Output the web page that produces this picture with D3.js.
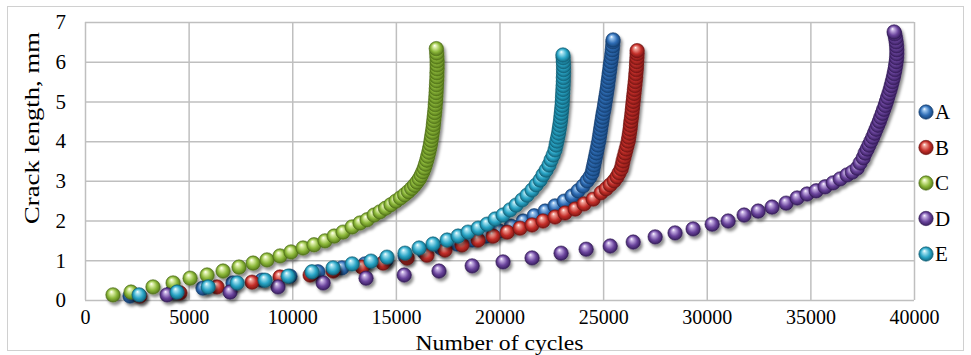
<!DOCTYPE html>
<html>
<head>
<meta charset="utf-8">
<script src="https://cdn.jsdelivr.net/npm/d3@7"></script>
<style>
  body { margin: 0; background: #fff; }
  svg { display: block; }
  .tick text { font-family: "Liberation Serif", "Times New Roman", serif; fill: #000; }
</style>
</head>
<body>
<div id="chart"></div>
<script>
// tick labels
const xTicks = [0, 5000, 10000, 15000, 20000, 25000, 30000, 35000, 40000];
const yTicks = [0, 1, 2, 3, 4, 5, 6, 7];

const seriesNames = ['A', 'B', 'C', 'D', 'E'];

// [number of cycles, crack length mm]
const seriesA = [
  [2170, 0.10], [4200, 0.20], [5690, 0.30], [7140, 0.43], [8540, 0.50], [9890, 0.60],
  [11240, 0.71], [12400, 0.81], [13510, 0.91], [14530, 1.01], [15440, 1.11], [16360, 1.21],
  [17180, 1.31], [17950, 1.41], [18680, 1.51], [19350, 1.61], [19980, 1.74], [20560, 1.86],
  [21140, 1.99], [21670, 2.12], [22200, 2.24], [22680, 2.37], [23120, 2.49], [23500, 2.62],
  [23790, 2.75], [24030, 2.87], [24230, 3.00], [24370, 3.10], [24470, 3.20], [24510, 3.30],
  [24550, 3.40], [24590, 3.50], [24630, 3.60], [24670, 3.70], [24710, 3.80], [24750, 3.90],
  [24790, 4.00], [24820, 4.10], [24850, 4.20], [24880, 4.30], [24910, 4.40], [24940, 4.50],
  [24970, 4.60], [25000, 4.70], [25040, 4.80], [25070, 4.90], [25100, 5.00], [25130, 5.10],
  [25160, 5.20], [25190, 5.30], [25220, 5.40], [25240, 5.50], [25270, 5.60], [25290, 5.70],
  [25320, 5.80], [25340, 5.90], [25370, 6.00], [25400, 6.10], [25420, 6.20], [25440, 6.30],
  [25460, 6.40], [25470, 6.50], [25480, 6.55]
];

const seriesB = [
  [2650, 0.10], [4580, 0.18], [6370, 0.33], [8060, 0.45], [9410, 0.58], [10860, 0.63],
  [11970, 0.73], [13370, 0.83], [14380, 0.93], [15540, 1.06], [16500, 1.13], [17370, 1.26],
  [18190, 1.39], [18970, 1.51], [19690, 1.61], [20370, 1.71], [20990, 1.81], [21570, 1.89],
  [22100, 1.99], [22680, 2.09], [23160, 2.19], [23650, 2.29], [24080, 2.42], [24520, 2.54],
  [24900, 2.70], [25140, 2.80], [25340, 2.90], [25530, 3.00], [25670, 3.10], [25770, 3.20],
  [25870, 3.30], [25920, 3.40], [25960, 3.50], [26010, 3.60], [26060, 3.70], [26110, 3.80],
  [26160, 3.90], [26210, 4.00], [26240, 4.10], [26270, 4.20], [26300, 4.30], [26320, 4.40],
  [26340, 4.50], [26370, 4.60], [26390, 4.70], [26410, 4.80], [26430, 4.90], [26450, 5.00],
  [26470, 5.10], [26490, 5.20], [26510, 5.30], [26530, 5.40], [26550, 5.50], [26570, 5.60],
  [26580, 5.70], [26600, 5.80], [26610, 5.90], [26620, 6.00], [26630, 6.10], [26640, 6.20],
  [26640, 6.28]
];

const seriesC = [
  [1350, 0.13], [2220, 0.20], [3280, 0.33], [4250, 0.43], [5070, 0.55], [5890, 0.63],
  [6660, 0.73], [7430, 0.83], [8110, 0.93], [8780, 1.01], [9410, 1.11], [9940, 1.21],
  [10520, 1.31], [11050, 1.39], [11580, 1.49], [12020, 1.61], [12450, 1.71], [12890, 1.84],
  [13270, 1.94], [13610, 2.02], [13950, 2.14], [14230, 2.22], [14500, 2.31], [14760, 2.40],
  [15000, 2.49], [15220, 2.57], [15420, 2.65], [15600, 2.73], [15760, 2.81], [15900, 2.89],
  [16020, 2.97], [16130, 3.05], [16220, 3.14], [16300, 3.23], [16370, 3.32], [16430, 3.42],
  [16490, 3.52], [16540, 3.62], [16590, 3.72], [16630, 3.82], [16670, 3.92], [16700, 4.02],
  [16730, 4.12], [16760, 4.22], [16790, 4.32], [16810, 4.42], [16830, 4.52], [16850, 4.62],
  [16870, 4.72], [16890, 4.82], [16900, 4.92], [16920, 5.02], [16930, 5.12], [16940, 5.22],
  [16950, 5.32], [16960, 5.42], [16970, 5.52], [16980, 5.62], [16980, 5.72], [16990, 5.82],
  [16990, 5.92], [16990, 6.02], [16980, 6.12], [16970, 6.22], [16950, 6.33]
];

const seriesD = [
  [3960, 0.13], [7000, 0.20], [9310, 0.33], [11490, 0.43], [13560, 0.55], [15400, 0.63],
  [17080, 0.73], [18680, 0.86], [20170, 0.96], [21570, 1.06], [22970, 1.18], [24180, 1.28],
  [25340, 1.36], [26450, 1.46], [27510, 1.59], [28470, 1.69], [29340, 1.79], [30260, 1.91],
  [31030, 1.99], [31800, 2.14], [32480, 2.24], [33150, 2.34], [33830, 2.44], [34360, 2.57],
  [34840, 2.67], [35280, 2.75], [35710, 2.85], [36100, 2.95], [36440, 3.05], [36770, 3.15],
  [37020, 3.22], [37260, 3.32], [37400, 3.45], [37550, 3.58], [37640, 3.70], [37740, 3.80],
  [37830, 3.90], [37920, 4.00], [38010, 4.10], [38090, 4.20], [38170, 4.30], [38250, 4.40],
  [38330, 4.50], [38400, 4.60], [38470, 4.70], [38540, 4.80], [38610, 4.90], [38670, 5.00],
  [38730, 5.10], [38790, 5.20], [38850, 5.30], [38900, 5.40], [38950, 5.50], [39000, 5.60],
  [39040, 5.70], [39080, 5.80], [39110, 5.90], [39140, 6.00], [39160, 6.10], [39170, 6.20],
  [39170, 6.30], [39160, 6.40], [39140, 6.50], [39110, 6.60], [39070, 6.70], [39040, 6.75]
];

const seriesE = [
  [2610, 0.13], [4440, 0.20], [5940, 0.33], [7340, 0.43], [8690, 0.50], [9800, 0.60],
  [10950, 0.71], [11970, 0.81], [12890, 0.91], [13800, 0.98], [14570, 1.08], [15440, 1.18],
  [16120, 1.31], [16790, 1.41], [17470, 1.51], [18000, 1.61], [18480, 1.71], [18970, 1.81],
  [19400, 1.91], [19790, 2.04], [20170, 2.14], [20510, 2.27], [20800, 2.39], [21090, 2.52],
  [21330, 2.64], [21570, 2.77], [21770, 2.90], [21960, 3.02], [22100, 3.15], [22250, 3.27],
  [22390, 3.40], [22490, 3.53], [22590, 3.65], [22680, 3.78], [22730, 3.90], [22770, 4.00],
  [22810, 4.10], [22850, 4.20], [22880, 4.30], [22910, 4.40], [22940, 4.50], [22960, 4.60],
  [22980, 4.70], [23000, 4.80], [23020, 4.90], [23030, 5.00], [23040, 5.10], [23050, 5.20],
  [23060, 5.30], [23070, 5.40], [23080, 5.50], [23080, 5.60], [23090, 5.70], [23090, 5.80],
  [23090, 5.90], [23080, 6.00], [23070, 6.10], [23060, 6.17]
];

const seriesData = [seriesA, seriesB, seriesC, seriesD, seriesE];

// base, light, dark shades for each marker
const colors = {
  A: ['#2f6db5', '#9cc6f0', '#123a6b'],
  B: ['#c42f2a', '#f3a49a', '#6e1210'],
  C: ['#8cb83a', '#e2f2b0', '#4a6a14'],
  D: ['#6a449c', '#c9b3e6', '#2f1753'],
  E: ['#2aa5c6', '#a8e4f2', '#0d5a70']
};

const width = 971;
const height = 355;
const plot = { left: 85, right: 914, top: 22, bottom: 300 };
const font = '"Liberation Serif", "Times New Roman", serif';
const r = 7.2;

const svg = d3.select('#chart')
  .append('svg')
    .attr('width', width)
    .attr('height', height);

const defs = svg.append('defs');

for (const name of seriesNames) {
  const c = colors[name];
  const grad = defs.append('radialGradient')
    .attr('id', 'ball-' + name)
    .attr('cx', '50%').attr('cy', '50%').attr('r', '55%')
    .attr('fx', '38%').attr('fy', '28%');
  grad.append('stop').attr('offset', '0%').attr('stop-color', '#ffffff');
  grad.append('stop').attr('offset', '18%').attr('stop-color', c[1]);
  grad.append('stop').attr('offset', '60%').attr('stop-color', c[0]);
  grad.append('stop').attr('offset', '100%').attr('stop-color', c[2]);
}

const shadow = defs.append('filter')
  .attr('id', 'shadow')
  .attr('x', '-20%').attr('y', '-20%').attr('width', '140%').attr('height', '140%');
shadow.append('feDropShadow')
  .attr('dx', 2).attr('dy', 3)
  .attr('stdDeviation', 1.8)
  .attr('flood-color', '#000')
  .attr('flood-opacity', 0.45);

// outer chart border
svg.append('rect')
  .attr('x', 7.5).attr('y', 6.5)
  .attr('width', 956).attr('height', 344)
  .attr('fill', '#fff')
  .attr('stroke', '#d0d0d0')
  .attr('stroke-width', 1);

const x = d3.scaleLinear()
  .domain([0, 40000])
  .range([plot.left, plot.right]);

const y = d3.scaleLinear()
  .domain([0, 7])
  .range([plot.bottom, plot.top]);

// gridlines + tick labels
const xAxis = d3.axisBottom(x)
  .tickValues(xTicks)
  .tickSize(-(plot.bottom - plot.top))
  .tickPadding(10)
  .tickFormat(d => d);

svg.append('g')
  .attr('transform', 'translate(0,' + plot.bottom + ')')
  .call(xAxis)
  .call(g => g.select('.domain').remove())
  .call(g => g.selectAll('.tick line').attr('stroke', '#bfbfbf').attr('stroke-width', 1.5))
  .call(g => g.selectAll('.tick text')
    .attr('font-size', 20)
    .attr('font-family', font)
    .attr('dy', '0.72em'));

const yAxis = d3.axisLeft(y)
  .tickValues(yTicks)
  .tickSize(-(plot.right - plot.left))
  .tickPadding(19)
  .tickFormat(d => d);

svg.append('g')
  .attr('transform', 'translate(' + plot.left + ',0)')
  .call(yAxis)
  .call(g => g.select('.domain').remove())
  .call(g => g.selectAll('.tick line').attr('stroke', '#bfbfbf').attr('stroke-width', 1.5))
  .call(g => g.selectAll('.tick text')
    .attr('font-size', 21)
    .attr('font-family', font));

// axis titles
svg.append('text')
  .attr('x', (plot.left + plot.right) / 2)
  .attr('y', 350)
  .attr('text-anchor', 'middle')
  .attr('font-family', font)
  .attr('font-size', 20)
  .attr('textLength', 168)
  .attr('lengthAdjust', 'spacingAndGlyphs')
  .text('Number of cycles');

svg.append('text')
  .attr('transform', 'translate(39,' + 128 + ') rotate(-90)')
  .attr('text-anchor', 'middle')
  .attr('font-family', font)
  .attr('font-size', 22)
  .attr('textLength', 192)
  .attr('lengthAdjust', 'spacingAndGlyphs')
  .text('Crack length, mm');

// data markers, drawn in series order so E ends up on top
seriesNames.forEach((name, i) => {
  svg.append('g')
    .attr('filter', 'url(#shadow)')
    .selectAll('circle')
    .data(seriesData[i])
    .enter()
    .append('circle')
      .attr('cx', d => x(d[0]))
      .attr('cy', d => y(d[1]))
      .attr('r', r)
      .attr('fill', 'url(#ball-' + name + ')')
      .attr('stroke', colors[name][2])
      .attr('stroke-width', 0.6);
});

// legend
const legend = svg.append('g')
  .attr('transform', 'translate(926,112)');

const item = legend.selectAll('g')
  .data(seriesNames)
  .enter()
  .append('g')
    .attr('transform', (d, i) => 'translate(0,' + (i * 35.5) + ')');

item.append('circle')
  .attr('r', r)
  .attr('fill', d => 'url(#ball-' + d + ')')
  .attr('stroke', d => colors[d][2])
  .attr('stroke-width', 0.6);

item.append('text')
  .attr('x', 9)
  .attr('y', 7)
  .attr('font-family', font)
  .attr('font-size', 21)
  .text(d => d);
</script>
</body>
</html>
